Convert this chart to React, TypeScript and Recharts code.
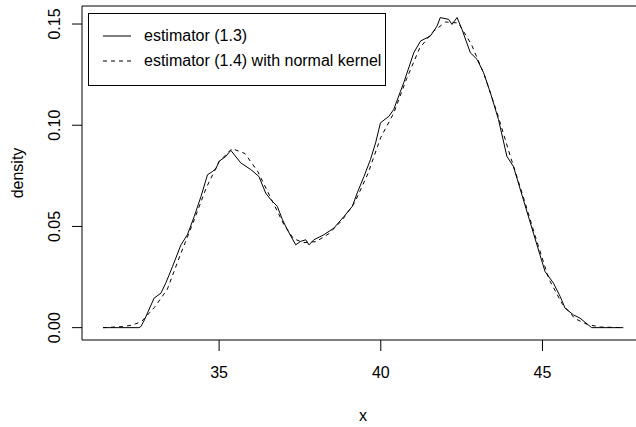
import {
  LineChart,
  Line,
  XAxis,
  YAxis,
  ReferenceArea,
  Legend,
} from 'recharts';

// estimator (1.3): raw, jagged curve
const solidX = [31.41, 32.52, 32.58, 32.69, 32.99, 33.2, 33.35, 33.56, 33.82, 34.02, 34.23, 34.44, 34.64, 34.8, 34.9, 35.0, 35.21, 35.36, 35.67, 35.98, 36.23, 36.44, 36.6, 36.8, 36.96, 37.11, 37.37, 37.52, 37.68, 37.78, 37.93, 38.24, 38.55, 38.86, 39.12, 39.27, 39.48, 39.68, 39.84, 39.99, 40.25, 40.4, 40.61, 40.71, 41.02, 41.23, 41.53, 41.74, 41.84, 42.1, 42.2, 42.36, 42.51, 42.77, 42.98, 43.18, 43.39, 43.64, 43.9, 44.1, 44.41, 44.72, 45.08, 45.34, 45.55, 45.7, 45.96, 46.16, 46.52, 47.5];
const solidY = [0, 0, 0.0005, 0.0038, 0.0146, 0.017, 0.022, 0.0302, 0.0409, 0.0459, 0.0549, 0.0648, 0.0755, 0.0772, 0.0785, 0.0822, 0.0846, 0.0876, 0.0814, 0.0781, 0.0747, 0.0665, 0.0632, 0.0599, 0.0533, 0.0484, 0.0409, 0.0426, 0.0434, 0.0409, 0.0434, 0.0459, 0.0492, 0.0549, 0.0599, 0.0665, 0.0747, 0.083, 0.0913, 0.1012, 0.1044, 0.1078, 0.1168, 0.121, 0.1358, 0.1416, 0.144, 0.149, 0.1532, 0.1523, 0.1498, 0.1532, 0.1474, 0.1358, 0.1325, 0.1259, 0.116, 0.1028, 0.0846, 0.0797, 0.0632, 0.0467, 0.0277, 0.022, 0.0153, 0.0096, 0.0063, 0.0047, 0, 0];

// estimator (1.4) with normal kernel: smooth curve
const dashedX = [31.41, 32.0, 32.3, 32.6, 33.0, 33.4, 33.8, 34.2, 34.6, 35.0, 35.4, 35.8, 36.2, 36.6, 37.0, 37.3, 37.6, 38.0, 38.4, 38.8, 39.2, 39.6, 40.0, 40.4, 40.8, 41.2, 41.6, 42.0, 42.4, 42.8, 43.2, 43.6, 44.0, 44.4, 44.8, 45.2, 45.6, 46.0, 46.4, 46.8, 47.5];
const dashedY = [0, 0.0005, 0.0012, 0.003, 0.01, 0.019, 0.036, 0.052, 0.069, 0.082, 0.0885, 0.086, 0.077, 0.064, 0.051, 0.044, 0.042, 0.0425, 0.0465, 0.053, 0.062, 0.076, 0.094, 0.106, 0.123, 0.138, 0.146, 0.151, 0.1505, 0.14, 0.125, 0.106, 0.085, 0.065, 0.044, 0.024, 0.012, 0.0045, 0.0015, 0.0003, 0];

const xTicks = [35, 40, 45];
const yTicks = [0, 0.05, 0.1, 0.15];
const xDomain = [30.76, 48.14];
const yDomain = [-0.0061, 0.1589];
const seriesNames = ['estimator (1.3)', 'estimator (1.4) with normal kernel'];

const solidData = solidX.map((x, i) => ({ x, y: solidY[i] }));
const dashedData = dashedX.map((x, i) => ({ x, y: dashedY[i] }));

const font = '"Liberation Sans", Arial, sans-serif';

function YTick(props: any) {
  const { x, y, payload } = props;
  return (
    <text
      x={x}
      y={y}
      transform={`rotate(-90, ${x}, ${y})`}
      textAnchor="middle"
      fontSize={16}
      fill="#000"
    >
      {payload.value.toFixed(2)}
    </text>
  );
}

function LegendBox() {
  return (
    <div
      style={{
        width: 296,
        height: 62,
        border: '1px solid #000',
        background: '#fff',
        fontFamily: font,
        fontSize: 16,
        color: '#000',
        paddingTop: 9,
        boxSizing: 'content-box',
      }}
    >
      {seriesNames.map((name, i) => (
        <div key={name} style={{ display: 'flex', alignItems: 'center', height: 25 }}>
          <svg width={28} height={4} style={{ marginLeft: 14, marginRight: 13 }}>
            <line
              x1={0}
              y1={2}
              x2={28}
              y2={2}
              stroke="#000"
              strokeWidth={1}
              strokeDasharray={i === 1 ? '4 4' : undefined}
            />
          </svg>
          <span>{name}</span>
        </div>
      ))}
    </div>
  );
}

export default function App() {
  return (
    <div
      style={{
        position: 'absolute',
        left: 0,
        top: 0,
        width: 636,
        height: 427,
        overflow: 'hidden',
        background: '#fff',
        fontFamily: font,
      }}
    >
      <LineChart width={644} height={427} margin={{ top: 6, right: 0, bottom: 0, left: 0 }}>
        <XAxis
          dataKey="x"
          type="number"
          domain={xDomain}
          ticks={xTicks}
          axisLine={false}
          tickSize={11}
          tickMargin={16}
          tickLine={{ stroke: '#000' }}
          tick={{ fill: '#000', fontSize: 16 }}
          height={87}
          label={{
            content: (p: any) => {
              const vb = p.viewBox;
              return (
                <text x={vb.x + vb.width / 2} y={vb.y + 81} textAnchor="middle" fontSize={16} fill="#000">
                  x
                </text>
              );
            },
          }}
        />
        <YAxis
          type="number"
          domain={yDomain}
          ticks={yTicks}
          axisLine={false}
          width={82}
          tickSize={10}
          tickMargin={12}
          tickLine={{ stroke: '#000' }}
          tick={<YTick />}
          label={{
            content: (p: any) => {
              const vb = p.viewBox;
              const cy = vb.y + vb.height / 2;
              return (
                <text x={23} y={cy} transform={`rotate(-90, 23, ${cy})`} textAnchor="middle" fontSize={16} fill="#000">
                  density
                </text>
              );
            },
          }}
        />
        <ReferenceArea
          x1={xDomain[0]}
          x2={xDomain[1]}
          y1={yDomain[0]}
          y2={yDomain[1]}
          ifOverflow="visible"
          stroke="#000"
          strokeWidth={1}
          fill="#fff"
          fillOpacity={0}
        />
        <Line
          data={dashedData}
          dataKey="y"
          type="linear"
          stroke="#000"
          strokeWidth={1}
          strokeDasharray="4 4"
          dot={false}
          isAnimationActive={false}
          name={seriesNames[1]}
        />
        <Line
          data={solidData}
          dataKey="y"
          type="linear"
          stroke="#000"
          strokeWidth={1}
          dot={false}
          isAnimationActive={false}
          name={seriesNames[0]}
        />
        <Legend
          layout="horizontal"
          verticalAlign="middle"
          align="center"
          wrapperStyle={{ left: 88, top: 13, width: 'auto', height: 'auto' }}
          content={() => <LegendBox />}
        />
      </LineChart>
    </div>
  );
}
